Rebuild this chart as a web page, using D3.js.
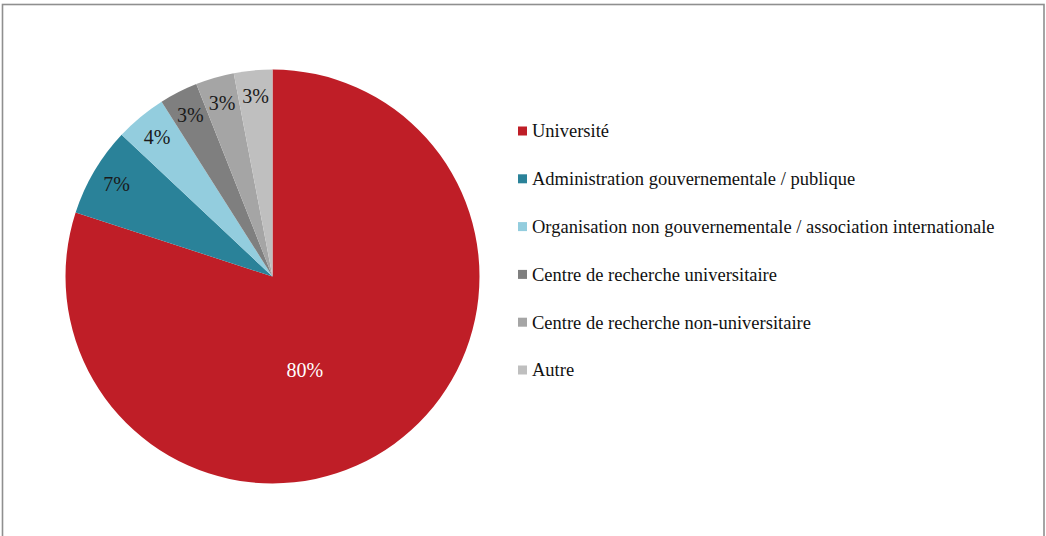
<!DOCTYPE html>
<html>
<head>
<meta charset="utf-8">
<script src="https://cdn.jsdelivr.net/npm/d3@7"></script>
<style>
  html, body { margin: 0; padding: 0; background: #fff; }
  svg { display: block; }
</style>
</head>
<body>
<svg id="chart" width="1046" height="536"></svg>
<script>
// Répartition des répondants par type d'institution
const categories = [
  "Université",
  "Administration gouvernementale / publique",
  "Organisation non gouvernementale / association internationale",
  "Centre de recherche universitaire",
  "Centre de recherche non-universitaire",
  "Autre"
];
const values = [80, 7, 4, 3, 3, 3];
const colors = ["#BF1E27", "#2A8299", "#93CDDE", "#7F7F7F", "#A5A5A5", "#BFBFBF"];
const labelColors = ["#ffffff", "#1a1a1a", "#1a1a1a", "#1a1a1a", "#1a1a1a", "#1a1a1a"];

const W = 1046, H = 536;
const cx = 272.5, cy = 276.5, R = 207;
const serif = "'Liberation Serif', 'Times New Roman', serif";

const svg = d3.select("#chart");

// frame
svg.append("rect")
  .attr("x", 2.5).attr("y", 4.5)
  .attr("width", 1041.5).attr("height", 560)
  .attr("fill", "none")
  .attr("stroke", "#8f8f8f")
  .attr("stroke-width", 1.6);

const data = categories.map((c, i) => ({ name: c, value: values[i], color: colors[i], lc: labelColors[i] }));

const pie = d3.pie().value(d => d.value).sort(null);
const arcs = pie(data);
const arc = d3.arc().innerRadius(0).outerRadius(R);

const g = svg.append("g").attr("transform", `translate(${cx},${cy})`);

g.selectAll("path.slice")
  .data(arcs)
  .join("path")
  .attr("class", "slice")
  .attr("d", arc)
  .attr("fill", d => d.data.color);

// value labels: small slices near the rim, the dominant slice in its lower body
function labelPos(d) {
  const share = (d.endAngle - d.startAngle) / (2 * Math.PI);
  let a, r;
  if (share > 0.5) {
    a = Math.PI * 161 / 180;
    r = R * 0.48;
  } else {
    a = (d.startAngle + d.endAngle) / 2;
    r = R * 0.875;
  }
  return [Math.sin(a) * r, -Math.cos(a) * r];
}

g.selectAll("text.val")
  .data(arcs)
  .join("text")
  .attr("class", "val")
  .attr("transform", d => `translate(${labelPos(d)})`)
  .attr("text-anchor", "middle")
  .attr("dy", "0.35em")
  .attr("font-family", serif)
  .attr("font-size", 20)
  .attr("fill", d => d.data.lc)
  .text(d => d.data.value + "%");

// legend
const legend = svg.append("g").attr("transform", "translate(518,0)");
const rowY = d3.scaleLinear().domain([0, categories.length - 1]).range([131, 370]);

const rows = legend.selectAll("g.row")
  .data(data)
  .join("g")
  .attr("class", "row")
  .attr("transform", (d, i) => `translate(0,${rowY(i)})`);

rows.append("rect")
  .attr("x", 0).attr("y", -4.5)
  .attr("width", 9).attr("height", 9)
  .attr("fill", d => d.color);

rows.append("text")
  .attr("x", 14)
  .attr("dy", "0.35em")
  .attr("font-family", serif)
  .attr("font-size", 18.5)
  .attr("fill", "#111")
  .text(d => d.name);
</script>
</body>
</html>
